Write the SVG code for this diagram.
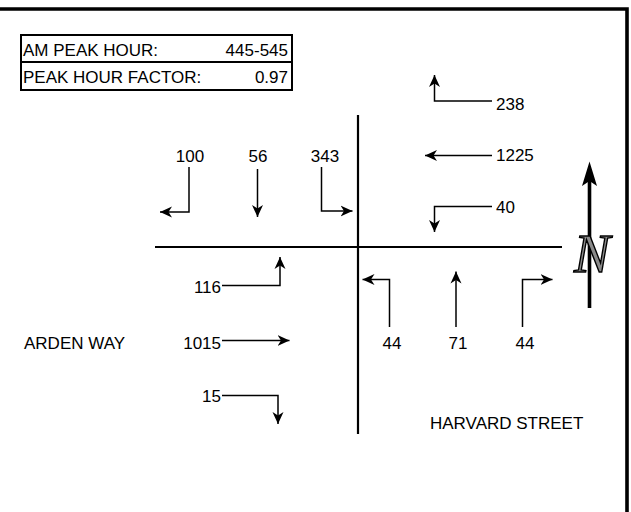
<svg xmlns="http://www.w3.org/2000/svg" width="631" height="512" viewBox="0 0 631 512">
<style>
text{font-family:"Liberation Sans",Arial,sans-serif;font-size:17px;fill:#000}
.mv{fill:none;stroke:#000;stroke-width:1.5;marker-end:url(#ah)}
.rd{stroke:#000;stroke-width:2.2;fill:none}
.m{text-anchor:middle}
.e{text-anchor:end}
</style>
<defs>
<marker id="ah" viewBox="0 0 12 12" refX="12" refY="6" markerWidth="12" markerHeight="12" markerUnits="userSpaceOnUse" orient="auto">
<path d="M0,0.5 L12,6 L0,11.5 L3.5,6 Z" fill="#000"/>
</marker>
</defs>
<rect width="631" height="512" fill="#fff"/>
<g id="frame">
<path d="M0,9 H627 V512" fill="none" stroke="#000" stroke-width="3.6"/>
</g>
<g id="info">
<rect x="21" y="35" width="271" height="55" fill="none" stroke="#000" stroke-width="2"/>
<line x1="21" y1="62" x2="292" y2="62" stroke="#000" stroke-width="2"/>
<text x="23" y="56">AM PEAK HOUR:</text>
<text x="288" y="56" class="e">445-545</text>
<text x="23" y="83">PEAK HOUR FACTOR:</text>
<text x="288" y="83" class="e">0.97</text>
</g>
<g id="roads">
<line class="rd" x1="155" y1="247" x2="562" y2="247"/>
<line class="rd" x1="358" y1="115" x2="358" y2="434"/>
</g>
<g id="movements">
<path class="mv" d="M189,167 V212 H160"/>
<path class="mv" d="M257.5,169 V217"/>
<path class="mv" d="M321.5,167 V211 H352.5"/>
<path class="mv" d="M492,101 H434.5 V75"/>
<path class="mv" d="M492,155.5 H425"/>
<path class="mv" d="M492,206.5 H434.5 V232"/>
<path class="mv" d="M222,285.5 H280 V257"/>
<path class="mv" d="M222,340.5 H289.5"/>
<path class="mv" d="M222,395.5 H278 V424"/>
<path class="mv" d="M389.5,327 V279.5 H362.5"/>
<path class="mv" d="M456,327 V271.5"/>
<path class="mv" d="M522.5,327 V279.5 H552.5"/>
</g>
<g id="labels">
<text x="190" y="162" class="m">100</text>
<text x="258" y="162" class="m">56</text>
<text x="325" y="162" class="m">343</text>
<text x="496" y="110">238</text>
<text x="496" y="161">1225</text>
<text x="496" y="213">40</text>
<text x="221" y="293" class="e">116</text>
<text x="221" y="349" class="e">1015</text>
<text x="221" y="402" class="e">15</text>
<text x="392" y="349" class="m">44</text>
<text x="458" y="349" class="m">71</text>
<text x="525" y="349" class="m">44</text>
<text x="24" y="349">ARDEN WAY</text>
<text x="430" y="429">HARVARD STREET</text>
</g>
<g id="north">
<line x1="589.5" y1="180" x2="589.5" y2="308" stroke="#000" stroke-width="3.6"/>
<path d="M589.5,161.5 L597,186 L589.5,181 L582,186 Z" fill="#000"/>
<text x="592" y="272" class="m" style="font-family:'Liberation Serif',serif;font-style:italic;font-size:54px;fill:#8a8a8a;stroke:#000;stroke-width:1.4">N</text>
</g>
</svg>
